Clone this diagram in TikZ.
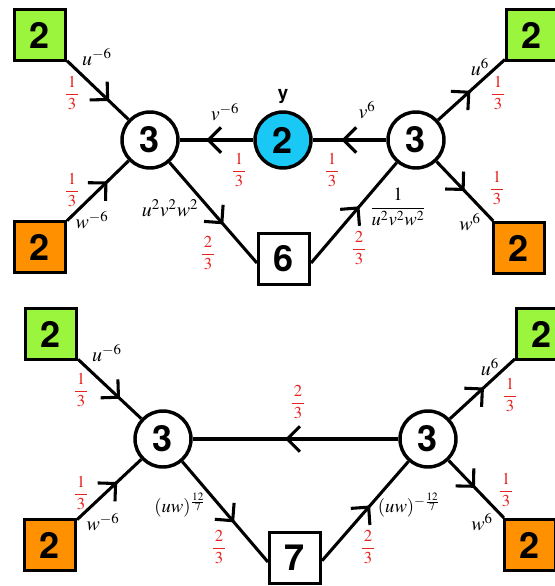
\documentclass[tikz,border=0pt]{standalone}
\usepackage{mathptmx}
\usepackage{amsmath}
\usepackage{fontspec}
\newfontfamily\nodefont{TeX Gyre Heros}
\usepackage{tikz}
\usetikzlibrary{decorations.markings}
\definecolor{flavgreen}{RGB}{155,245,60}
\definecolor{flavorange}{RGB}{255,145,0}
\definecolor{adjblue}{RGB}{26,200,245}
\definecolor{rchg}{RGB}{230,35,30}
\tikzset{
  gauge/.style={circle,draw,line width=2.6pt,minimum size=42pt,inner sep=0pt,
            fill=white,font=\nodefont\bfseries\fontsize{27}{30}\selectfont},
  flav/.style={rectangle,draw,line width=2.6pt,minimum size=38pt,inner sep=0pt,
            fill=white,font=\nodefont\bfseries\fontsize{27}{30}\selectfont},
  leg/.style={line width=2.3pt},
  chev/.style={leg,postaction={decorate},decoration={markings,
      mark=at position #1 with {\draw[line width=2.3pt,line cap=butt]
        (-9.5pt,9.5pt) -- (0pt,0pt) -- (-9.5pt,-9.5pt);}}},
  chev/.default=0.6,
  rch/.style={text=rchg,inner sep=0pt,font=\fontsize{12.5}{14}\selectfont},
  mlab/.style={inner sep=0pt,font=\fontsize{15}{17}\selectfont},
  slab/.style={inner sep=0pt,font=\fontsize{14}{16}\selectfont},
}
\newcommand{\rfr}[2]{$\dfrac{\,#1\,}{\,#2\,}$}

\begin{document}
\begin{tikzpicture}[x=0.75pt,y=-0.75pt]
  \useasboundingbox (0,0) rectangle (555,586);
  % upper quiver
  \node[flav,fill=flavgreen]  (gL) at (40,35)   {2};
  \node[flav,fill=flavorange] (oL) at (40,247)  {2};
  \node[gauge]                (cL) at (150,140) {3};
  \node[gauge,fill=adjblue]   (cY) at (283,140) {2};
  \node[gauge]                (cR) at (416,140) {3};
  \node[flav,fill=flavgreen]  (gR) at (532,35)  {2};
  \node[flav,fill=flavorange] (oR) at (519,248) {2};
  \node[flav]                 (s6) at (284,259) {6};
  \node[font=\nodefont\bfseries\fontsize{14}{16}\selectfont] (ylab) at (283,97) {y};

  \draw[chev=0.66] (gL) -- (cL);
  \draw[chev=0.63] (oL) -- (cL);
  \draw[chev=0.61] (cY) -- (cL);
  \draw[chev=0.58] (cR) -- (cY);
  \draw[chev=0.6]  (cL) -- ([yshift=-3pt]s6.west);
  \draw[chev=0.55] ([yshift=-3pt]s6.east) -- (cR);
  \draw[chev=0.46] (cR) -- (gR);
  \draw[chev=0.47] (cR) -- (oR);

  \node[mlab] (l1) at (97,57)   {$u^{-6}$};
  \node[rch]  (r1) at (72,93)   {\rfr{1}{3}};
  \node[rch]  (r2) at (72,190)  {\rfr{1}{3}};
  \node[mlab] (l2) at (92,220)  {$w^{-6}$};
  \node[mlab] (l3) at (225,112) {$v^{-6}$};
  \node[rch]  (r3) at (239,170) {\rfr{1}{3}};
  \node[rch]  (r4) at (332,170) {\rfr{1}{3}};
  \node[mlab] (l4) at (367,110) {$v^{6}$};
  \node[mlab] (l5) at (170,208) {$u^2v^2w^2$};
  \node[rch]  (r5) at (208,253) {\rfr{2}{3}};
  \node[slab] (l6) at (398,207) {$\dfrac{1}{u^2v^2w^2}$};
  \node[rch]  (r6) at (359,248) {\rfr{2}{3}};
  \node[mlab] (l7) at (480,67)  {$u^{6}$};
  \node[rch]  (r7) at (498,93)  {\rfr{1}{3}};
  \node[rch]  (r8) at (497,188) {\rfr{1}{3}};
  \node[mlab] (l8) at (470,222) {$w^{6}$};

  % lower quiver
  \node[flav,fill=flavgreen]  (gL2) at (51,334)  {2};
  \node[flav,fill=flavorange] (oL2) at (50,545)  {2};
  \node[gauge]                (cL2) at (163,439) {3};
  \node[gauge]                (cR2) at (428,439) {3};
  \node[flav,fill=flavgreen]  (gR2) at (542,334) {2};
  \node[flav,fill=flavorange] (oR2) at (530,545) {2};
  \node[flav]                 (s7)  at (295,558) {7};

  \draw[chev=0.64] (gL2) -- (cL2);
  \draw[chev=0.6]  (oL2) -- (cL2);
  \draw[chev=0.54] (cR2) -- (cL2);
  \draw[chev=0.59] (cL2) -- ([yshift=-3pt]s7.west);
  \draw[chev=0.54] ([yshift=-2pt]s7.east) -- (cR2);
  \draw[chev=0.5]  (cR2) -- (gR2);
  \draw[chev=0.45] (cR2) -- (oR2);

  \node[mlab] (m1) at (107,353) {$u^{-6}$};
  \node[rch]  (q1) at (81,390)  {\rfr{1}{3}};
  \node[rch]  (q2) at (81,493)  {\rfr{1}{3}};
  \node[mlab] (m2) at (103,522) {$w^{-6}$};
  \node[rch]  (q3) at (298,402) {\rfr{2}{3}};
  \node[slab] (m3) at (180,505) {$(uw)^{\frac{12}{7}}$};
  \node[rch]  (q4) at (219,547) {\rfr{2}{3}};
  \node[slab] (m4) at (409,505) {$(uw)^{-\frac{12}{7}}$};
  \node[rch]  (q5) at (368,547) {\rfr{2}{3}};
  \node[mlab] (m5) at (490,367) {$u^{6}$};
  \node[rch]  (q6) at (510,395) {\rfr{1}{3}};
  \node[rch]  (q7) at (506,490) {\rfr{1}{3}};
  \node[mlab] (m6) at (482,522) {$w^{6}$};
\end{tikzpicture}
\end{document}
